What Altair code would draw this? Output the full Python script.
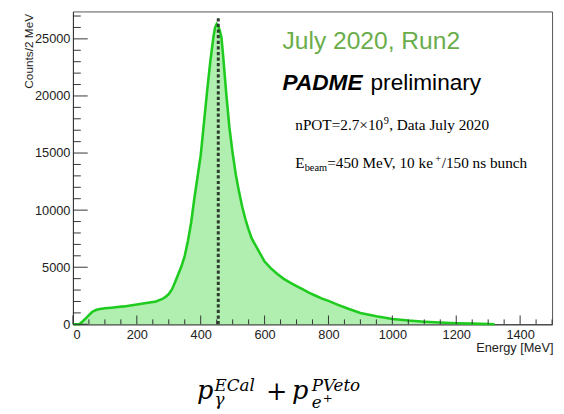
import altair as alt
import pandas as pd

# ---- data ----
energy = [0, 20, 30, 40, 50, 60, 70, 80, 100, 120, 140, 160, 180, 200, 220, 240, 260, 280, 290,
          300, 310, 320, 330, 340, 350, 360, 370, 380, 390, 400, 410, 420, 430, 440, 445, 450,
          455, 460, 465, 470, 480, 490, 500, 510, 520, 530, 540, 550, 560, 580, 600, 620, 640,
          660, 680, 700, 720, 740, 760, 780, 800, 830, 860, 900, 950, 1000, 1050, 1100, 1150,
          1200, 1250, 1300, 1320]
counts = [0, 0, 250, 520, 800, 1080, 1230, 1320, 1400, 1450, 1510, 1570, 1650, 1730, 1820, 1920,
          2000, 2220, 2400, 2650, 3050, 3700, 4400, 5100, 6000, 7300, 8900, 11000, 12900, 14800,
          17600, 20400, 23000, 25200, 26000, 26300, 26100, 25700, 25100, 23600, 20200, 17200,
          15000, 13100, 11600, 10300, 9200, 8300, 7500, 6500, 5500, 4900, 4400, 3980, 3650, 3350,
          3050, 2750, 2500, 2250, 2050, 1700, 1380, 1000, 700, 470, 330, 230, 160, 100, 60, 25, 0]

beam_line_e = [455]
beam_line_top = [26900]

x_major = [0, 200, 400, 600, 800, 1000, 1200, 1400]
x_minor = [v for v in range(0, 1501, 50) if v % 200 != 0]
y_major = [0, 5000, 10000, 15000, 20000, 25000]
y_minor = [v for v in range(0, 27001, 1000) if v % 5000 != 0]

W, H = 487, 318
xscale = alt.Scale(domain=[0, 1500], nice=False, zero=False)
yscale = alt.Scale(domain=[0, 27400], nice=False)

hist = pd.DataFrame({"E": energy, "N": counts})

sans = "Liberation Sans"
serif = "Liberation Serif"
math = "DejaVu Serif"

base = alt.Chart(hist)

area = base.mark_area(color="#b0efb0", opacity=1, interpolate="linear").encode(
    x=alt.X("E:Q", scale=xscale,
            axis=alt.Axis(values=x_major, format="d", ticks=False, grid=False, labelFont=sans,
                          labelFontSize=13, labelColor="#222", labelPadding=4, domainColor="#333",
                          title="Energy [MeV]", titleFont=sans, titleFontSize=13,
                          titleFontWeight="normal", titleColor="#222", titleX=W + 1, titleY=28,
                          titleAlign="right", titleBaseline="alphabetic", titleAnchor="end")),
    y=alt.Y("N:Q", scale=yscale,
            axis=alt.Axis(values=y_major, format="d", ticks=False, grid=False, labelFont=sans,
                          labelFontSize=13, labelColor="#222", labelPadding=3, domainColor="#333",
                          title="Counts/2 MeV", titleFont=sans, titleFontSize=12,
                          titleFontWeight="normal", titleColor="#222", titleAngle=-90,
                          titleX=-41, titleY=2, titleAlign="right", titleBaseline="alphabetic")),
)

line = base.mark_line(color="#1ecb1e", strokeWidth=2.6, interpolate="linear").encode(
    x=alt.X("E:Q", scale=xscale),
    y=alt.Y("N:Q", scale=yscale),
)

beam = alt.Chart(pd.DataFrame({"E": beam_line_e, "top": beam_line_top})).transform_calculate(
    zero="0"
).mark_rule(color="#2e3a2e", strokeWidth=3, strokeDash=[3.3, 2.4]).encode(
    x=alt.X("E:Q", scale=xscale),
    y=alt.Y("zero:Q", scale=yscale),
    y2="top:Q",
)

xt_major = alt.Chart(pd.DataFrame({"v": x_major})).mark_rule(color="#333", strokeWidth=1).encode(
    x=alt.X("v:Q", scale=xscale), y=alt.value(H), y2=alt.value(H - 9))
xt_minor = alt.Chart(pd.DataFrame({"v": x_minor})).mark_rule(color="#333", strokeWidth=1).encode(
    x=alt.X("v:Q", scale=xscale), y=alt.value(H), y2=alt.value(H - 5))
yt_major = alt.Chart(pd.DataFrame({"v": y_major})).mark_rule(color="#333", strokeWidth=1).encode(
    y=alt.Y("v:Q", scale=yscale), x=alt.value(0), x2=alt.value(15))
yt_minor = alt.Chart(pd.DataFrame({"v": y_minor})).mark_rule(color="#333", strokeWidth=1).encode(
    y=alt.Y("v:Q", scale=yscale), x=alt.value(0), x2=alt.value(8))


def txt(s, x, y, size, font=sans, color="#000", style="normal", weight="normal", align="left"):
    return alt.Chart(pd.DataFrame({"t": [s]})).mark_text(
        font=font, fontSize=size, color=color, fontStyle=style, fontWeight=weight,
        align=align, baseline="alphabetic"
    ).encode(text="t:N", x=alt.value(x), y=alt.value(y))


F, S = 15.5, 10.5
texts = [
    txt("July 2020, Run2", 213, 38.5, 25, color="#6aad4a"),
    txt("PADME", 213, 79.5, 23, style="italic", weight="bold"),
    txt("preliminary", 302.5, 79.5, 23),
    txt("nPOT=2.7×10", 226, 120, F, font=serif),
    txt("9", 315.9, 114, S, font=serif),
    txt(", Data July 2020", 321.5, 120, F, font=serif),
    txt("E", 226, 159, F, font=serif),
    txt("beam", 235.5, 162, S, font=serif),
    txt("=450 MeV, 10 ke", 258.5, 159, F, font=serif),
    txt("+", 368.3, 153, S, font=serif),
    txt("/150 ns bunch", 374.8, 159, F, font=serif),
    # formula below the chart
    txt("p", 126, 393.7, 26, font=math, style="italic"),
    txt("ECal", 144, 385.3, 17, font=math, style="italic"),
    txt("γ", 144, 400, 17, font=math, style="italic"),
    txt("+", 207, 395, 26, font=math, align="center"),
    txt("p", 222.7, 393.7, 26, font=math, style="italic"),
    txt("PVeto", 242.7, 385.3, 17, font=math, style="italic"),
    txt("e", 242.7, 402.7, 17, font=math, style="italic"),
    txt("+", 254, 397, 12, font=math),
]

chart = alt.layer(area, line, beam, xt_major, xt_minor, yt_major, yt_minor, *texts).properties(
    width=W, height=H,
    padding={"left": 66, "top": 0, "right": 4, "bottom": 110},
    autosize=alt.AutoSizeParams(type="none"),
).configure_view(stroke="#555", strokeWidth=1).configure_axis(domainWidth=1)

chart.save("out.html", embed_options={"renderer": "svg", "actions": False})
